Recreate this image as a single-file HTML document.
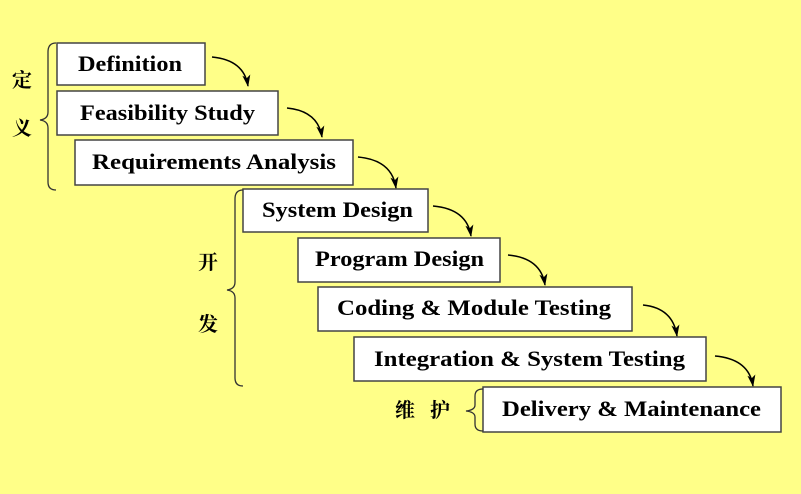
<!DOCTYPE html>
<html><head><meta charset="utf-8"><style>
html,body{margin:0;padding:0;background:#FFFF88;}
svg{display:block}
.b{fill:#fff;stroke:#444;stroke-width:1.5}
.t{font-family:"Liberation Serif",serif;font-weight:bold;font-size:22px;fill:#000}
.c{font-family:"Liberation Serif","Noto Serif CJK SC",serif;font-size:20px;font-weight:bold;fill:#000}
.a{fill:none;stroke:#000;stroke-width:1.5}
.br{fill:none;stroke:#333;stroke-width:1.3}
</style></head><body>
<svg width="801" height="494" viewBox="0 0 801 494" xmlns="http://www.w3.org/2000/svg">
<defs><marker id="m" markerWidth="12" markerHeight="8" refX="11" refY="4" orient="auto" markerUnits="userSpaceOnUse" viewBox="0 0 12 8"><path d="M0,0 L12,4 L0,8 L3,4 Z" fill="#000"/></marker></defs>
<rect width="801" height="494" fill="#FFFF88"/>
<rect class="b" x="57" y="43" width="148" height="42"/>
<text class="t" x="78" y="71" textLength="104" lengthAdjust="spacingAndGlyphs">Definition</text>
<rect class="b" x="57" y="91" width="221" height="44"/>
<text class="t" x="80" y="120" textLength="175" lengthAdjust="spacingAndGlyphs">Feasibility Study</text>
<rect class="b" x="75" y="140" width="278" height="45"/>
<text class="t" x="92" y="169" textLength="244" lengthAdjust="spacingAndGlyphs">Requirements Analysis</text>
<rect class="b" x="243" y="189" width="185" height="43"/>
<text class="t" x="262" y="217" textLength="151" lengthAdjust="spacingAndGlyphs">System Design</text>
<rect class="b" x="298" y="238" width="202" height="44"/>
<text class="t" x="315" y="266" textLength="169" lengthAdjust="spacingAndGlyphs">Program Design</text>
<rect class="b" x="318" y="287" width="314" height="44"/>
<text class="t" x="337" y="315" textLength="274" lengthAdjust="spacingAndGlyphs">Coding &amp; Module Testing</text>
<rect class="b" x="354" y="337" width="352" height="44"/>
<text class="t" x="374" y="366" textLength="311" lengthAdjust="spacingAndGlyphs">Integration &amp; System Testing</text>
<rect class="b" x="483" y="387" width="298" height="45"/>
<text class="t" x="502" y="416" textLength="259" lengthAdjust="spacingAndGlyphs">Delivery &amp; Maintenance</text>
<path class="a" marker-end="url(#m)" d="M212,57 Q244,60 248,86"/>
<path class="a" marker-end="url(#m)" d="M287,108 Q318,111 322,137"/>
<path class="a" marker-end="url(#m)" d="M358,157 Q392,160 396,188"/>
<path class="a" marker-end="url(#m)" d="M433,206 Q467,209 471,236"/>
<path class="a" marker-end="url(#m)" d="M508,255 Q541,258 545,285"/>
<path class="a" marker-end="url(#m)" d="M643,305 Q673,308 677,336"/>
<path class="a" marker-end="url(#m)" d="M715,356 Q749,359 753,386"/>
<path class="br" d="M56,43 Q48,43 48,52 L48,112 Q48,119 40,120 Q48,121 48,128 L48,182 Q48,190 56,190"/>
<path class="br" d="M243,190 Q235,190 235,199 L235,282 Q235,289 227,290 Q235,291 235,298 L235,378 Q235,386 243,386"/>
<path class="br" d="M483,389 Q475,389 475,396 L475,405 Q475,410 466,411 Q475,412 475,417 L475,424 Q475,431 483,431"/>
<text class="c" x="22" y="87" text-anchor="middle">定</text>
<text class="c" x="22" y="135" text-anchor="middle">义</text>
<text class="c" x="208" y="269" text-anchor="middle">开</text>
<text class="c" x="208" y="331" text-anchor="middle">发</text>
<text class="c" x="405" y="417" text-anchor="middle">维</text>
<text class="c" x="440" y="417" text-anchor="middle">护</text>
</svg>
</body></html>
